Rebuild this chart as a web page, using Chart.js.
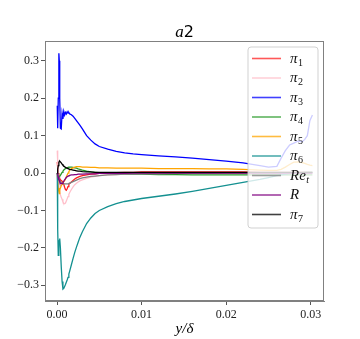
<!DOCTYPE html>
<html><head><meta charset="utf-8">
<script src="https://cdn.jsdelivr.net/npm/chart.js@4.4.1/dist/chart.umd.min.js"></script>
<style>html,body{margin:0;padding:0;background:#fff;}#wrap{width:360px;height:339px;}</style>
</head><body><div id="wrap"><canvas id="c" width="360" height="339"></canvas></div>
<script>
// ---- data ----
const yDelta = [0.00003,0.00008,0.00015,0.00022,0.00027,0.00032,0.0004,0.0005,0.0006,0.0007,
  0.0008,0.0009,0.001,0.0011,0.0012,0.0013,0.0014,0.0015,0.0017,0.0019,
  0.0021,0.0023,0.0025,0.0027,0.003,0.0035,0.004,0.0045,0.005,0.006,
  0.007,0.008,0.009,0.010,0.012,0.014,0.016,0.018,0.020,0.022,
  0.024,0.025,0.026,0.0265,0.027,0.0275,0.028,0.0285,0.029,0.0293,
  0.0296,0.0299,0.0302];
const pi1 = [0.03,0.015,0.0,-0.01,-0.012,-0.015,-0.018,-0.02,-0.022,-0.025,
  -0.03,-0.038,-0.044,-0.046,-0.042,-0.036,-0.03,-0.028,-0.024,-0.02,
  -0.016,-0.013,-0.011,-0.009,-0.007,-0.005,-0.003,-0.002,-0.001,0.0,
  0.001,0.002,0.002,0.003,0.003,0.003,0.003,0.003,0.003,0.003,
  0.002,0.002,0.002,0.002,0.002,0.002,0.002,0.002,0.002,0.002,
  0.002,0.002,0.002];
const pi2 = [0.06,0.03,-0.01,-0.03,-0.042,-0.05,-0.058,-0.065,-0.07,-0.077,
  -0.081,-0.082,-0.08,-0.075,-0.069,-0.063,-0.057,-0.052,-0.044,-0.037,
  -0.031,-0.027,-0.024,-0.021,-0.018,-0.014,-0.011,-0.009,-0.007,-0.005,
  -0.004,-0.003,-0.002,-0.001,0.0,0.0,0.0,0.0,0.0,0.0,
  0.0,0.0,0.0,0.0,0.0,0.0,0.0,0.0,0.0,0.0,
  0.0,0.0,0.0];
const pi3 = [0.18,0.12,0.2,0.32,0.3,0.2,0.12,0.118,0.16,0.145,
  0.165,0.155,0.162,0.158,0.164,0.16,0.162,0.158,0.156,0.152,
  0.146,0.14,0.134,0.128,0.118,0.1,0.088,0.078,0.071,0.064,
  0.058,0.054,0.051,0.049,0.046,0.043,0.04,0.036,0.032,0.027,
  0.02,0.016,0.018,0.04,0.06,0.075,0.08,0.085,0.084,0.09,
  0.1,0.14,0.155];
const pi4 = [0.0,-0.005,-0.01,-0.01,-0.009,-0.008,-0.006,-0.002,0.002,0.005,
  0.008,0.01,0.012,0.013,0.014,0.015,0.016,0.016,0.016,0.015,
  0.014,0.013,0.011,0.01,0.008,0.005,0.003,0.002,0.001,0.0,
  -0.001,-0.002,-0.003,-0.003,-0.004,-0.004,-0.005,-0.005,-0.005,-0.005,
  -0.005,-0.005,-0.005,-0.005,-0.005,-0.005,-0.005,-0.005,-0.005,-0.005,
  -0.005,-0.005,-0.005];
const pi5 = [0.0,-0.02,-0.04,-0.05,-0.055,-0.045,-0.04,-0.034,-0.03,-0.026,
  -0.023,-0.02,-0.016,-0.01,-0.005,0.0,0.004,0.008,0.012,0.014,
  0.016,0.017,0.017,0.017,0.016,0.016,0.015,0.015,0.014,0.014,
  0.013,0.013,0.013,0.013,0.012,0.012,0.012,0.011,0.011,0.01,
  0.008,0.007,0.007,0.01,0.016,0.023,0.029,0.03,0.028,0.026,
  0.023,0.021,0.02];
const pi6 = [0.0,-0.15,-0.22,-0.19,-0.18,-0.175,-0.2,-0.25,-0.29,-0.31,
  -0.308,-0.303,-0.298,-0.292,-0.286,-0.279,-0.27,-0.262,-0.245,-0.228,
  -0.212,-0.198,-0.185,-0.172,-0.157,-0.135,-0.12,-0.108,-0.1,-0.09,
  -0.082,-0.076,-0.072,-0.068,-0.062,-0.056,-0.049,-0.041,-0.033,-0.025,
  -0.017,-0.012,-0.007,-0.005,-0.003,-0.001,0.0,0.001,0.001,0.002,
  0.002,0.002,0.002];
const reT = [0.0,-0.005,-0.01,-0.015,-0.018,-0.02,-0.023,-0.025,-0.027,-0.028,
  -0.029,-0.029,-0.029,-0.029,-0.029,-0.029,-0.028,-0.027,-0.025,-0.023,
  -0.021,-0.019,-0.017,-0.015,-0.013,-0.011,-0.009,-0.008,-0.007,-0.005,
  -0.004,-0.003,-0.003,-0.002,-0.002,-0.001,-0.001,-0.001,0.0,0.0,
  0.0,0.0,0.0,0.0,0.0,0.0,0.0,0.0,0.0,0.0,
  0.0,0.0,0.0];
const rVal = [0.0,-0.005,-0.01,-0.015,-0.02,-0.024,-0.027,-0.028,-0.028,-0.026,
  -0.022,-0.018,-0.015,-0.012,-0.01,-0.008,-0.007,-0.006,-0.005,-0.005,
  -0.004,-0.004,-0.003,-0.003,-0.003,-0.002,-0.002,-0.002,-0.001,-0.001,
  -0.001,-0.001,0.0,0.0,0.0,0.0,0.0,0.0,0.0,0.0,
  0.0,0.0,0.0,0.0,0.0,0.0,0.0,0.0,0.0,0.0,
  0.0,0.0,0.0];
const pi7 = [0.0,0.01,0.02,0.028,0.031,0.032,0.03,0.027,0.024,0.021,
  0.019,0.017,0.015,0.014,0.013,0.012,0.011,0.01,0.009,0.008,
  0.007,0.006,0.005,0.005,0.004,0.003,0.003,0.002,0.002,0.002,
  0.002,0.002,0.002,0.002,0.002,0.002,0.002,0.002,0.002,0.002,
  0.002,0.002,0.002,0.002,0.002,0.002,0.002,0.002,0.002,0.002,
  0.002,0.002,0.002];
const seriesValues = [pi1, pi2, pi3, pi4, pi5, pi6, reT, rVal, pi7];
const legendBase = ['π','π','π','π','π','π','Re','R','π'];
const legendSub  = ['1','2','3','4','5','6','t','','7'];
const seriesColors = ['#ff2020','#ffc0cb','#0000ff','#2a9a2a','#ffa500','#139090','#808080','#800080','#000000'];
const xTicks = [0, 0.01, 0.02, 0.03];
const yTicks = [-0.3, -0.2, -0.1, 0.0, 0.1, 0.2, 0.3];
const titleMain = 'a', titleNum = '2';
const xTitle = 'y/δ';

// ---- chart ----
const SERIF = '"Liberation Serif", "DejaVu Serif", serif';
const datasets = seriesValues.map((vals, i) => ({
  label: legendBase[i] + legendSub[i],
  data: vals.map((v, k) => ({x: yDelta[k], y: v})),
  borderColor: seriesColors[i],
  borderWidth: 1.3,
  pointRadius: 0,
  fill: false,
  tension: 0,
  order: seriesValues.length - 1 - i
}));

const decor = {
  id: 'decor',
  afterDatasetsDraw(chart) {
    const ctx = chart.ctx, a = chart.chartArea;
    ctx.save();
    // spines
    ctx.strokeStyle = '#808080'; ctx.lineWidth = 1;
    ctx.strokeRect(Math.round(a.left) + 0.5, Math.round(a.top) + 0.5,
                   Math.round(a.right - a.left) - 1, Math.round(a.bottom - a.top) - 1);
    // legend
    const lx = 248, ly = 47, lw = 70, lh = 181, r = 3;
    ctx.beginPath();
    ctx.moveTo(lx + r, ly); ctx.lineTo(lx + lw - r, ly); ctx.quadraticCurveTo(lx + lw, ly, lx + lw, ly + r);
    ctx.lineTo(lx + lw, ly + lh - r); ctx.quadraticCurveTo(lx + lw, ly + lh, lx + lw - r, ly + lh);
    ctx.lineTo(lx + r, ly + lh); ctx.quadraticCurveTo(lx, ly + lh, lx, ly + lh - r);
    ctx.lineTo(lx, ly + r); ctx.quadraticCurveTo(lx, ly, lx + r, ly);
    ctx.closePath();
    ctx.fillStyle = 'rgba(255,255,255,0.8)'; ctx.fill();
    ctx.strokeStyle = 'rgba(204,204,204,0.9)'; ctx.lineWidth = 1; ctx.stroke();
    for (let i = 0; i < legendBase.length; i++) {
      const y = 58.5 + i * 19.5;
      ctx.strokeStyle = seriesColors[i]; ctx.globalAlpha = 0.75; ctx.lineWidth = 1.6;
      ctx.beginPath(); ctx.moveTo(252, y); ctx.lineTo(281, y); ctx.stroke();
      ctx.globalAlpha = 1;
      ctx.fillStyle = '#111'; ctx.textBaseline = 'alphabetic'; ctx.textAlign = 'left';
      ctx.font = 'italic 15px ' + SERIF;
      ctx.fillText(legendBase[i], 290, y + 4);
      const w = ctx.measureText(legendBase[i]).width;
      if (legendSub[i]) {
        ctx.font = (legendSub[i] === 't' ? 'italic ' : '') + '10px ' + SERIF;
        ctx.fillText(legendSub[i], 290 + w + 0.5, y + 7);
      }
    }
    ctx.restore();
  },
  afterDraw(chart) {
    const ctx = chart.ctx, a = chart.chartArea;
    ctx.save();
    ctx.fillStyle = '#000'; ctx.textBaseline = 'alphabetic';
    // title
    ctx.font = 'italic 17px ' + SERIF;
    const w1 = ctx.measureText(titleMain).width;
    ctx.font = '16px "DejaVu Sans", sans-serif';
    const w2 = ctx.measureText(titleNum).width;
    const cx = (a.left + a.right) / 2, start = cx - (w1 + w2) / 2;
    ctx.font = 'italic 17px ' + SERIF; ctx.textAlign = 'left';
    ctx.fillText(titleMain, start, 37);
    ctx.font = '16px "DejaVu Sans", sans-serif';
    ctx.fillText(titleNum, start + w1, 37);
    // x title
    ctx.font = 'italic 15px ' + SERIF; ctx.textAlign = 'center';
    ctx.fillText(xTitle, cx, 333);
    ctx.restore();
  }
};

const fmtMinus = s => s.replace('-', '\u2212');
new Chart(document.getElementById('c'), {
  type: 'line',
  data: { datasets },
  plugins: [decor],
  options: {
    responsive: false, animation: false, devicePixelRatio: 1,
    layout: { padding: { left: 0, right: 36, top: 41, bottom: 0 } },
    plugins: { legend: { display: false }, title: { display: false }, tooltip: { enabled: false } },
    scales: {
      x: {
        type: 'linear', min: -0.00142, max: 0.03157,
        afterBuildTicks: s => { s.ticks = xTicks.map(v => ({ value: v })); },
        afterFit: s => { s.height = 38; },
        ticks: { callback: v => v.toFixed(2), font: { family: SERIF, size: 12 }, color: '#222', padding: 3, maxRotation: 0 },
        grid: { drawOnChartArea: false, drawTicks: true, tickLength: 4, tickColor: '#555' },
        border: { display: true, color: '#808080' }
      },
      y: {
        type: 'linear', min: -0.342, max: 0.353,
        afterBuildTicks: s => { s.ticks = yTicks.map(v => ({ value: v })); },
        afterFit: s => { s.width = 45; },
        ticks: { callback: v => fmtMinus(v.toFixed(1)), font: { family: SERIF, size: 12 }, color: '#222', padding: 2 },
        grid: { drawOnChartArea: false, drawTicks: true, tickLength: 4, tickColor: '#555' },
        border: { display: true, color: '#808080' }
      }
    }
  }
});
</script>
</body></html>
